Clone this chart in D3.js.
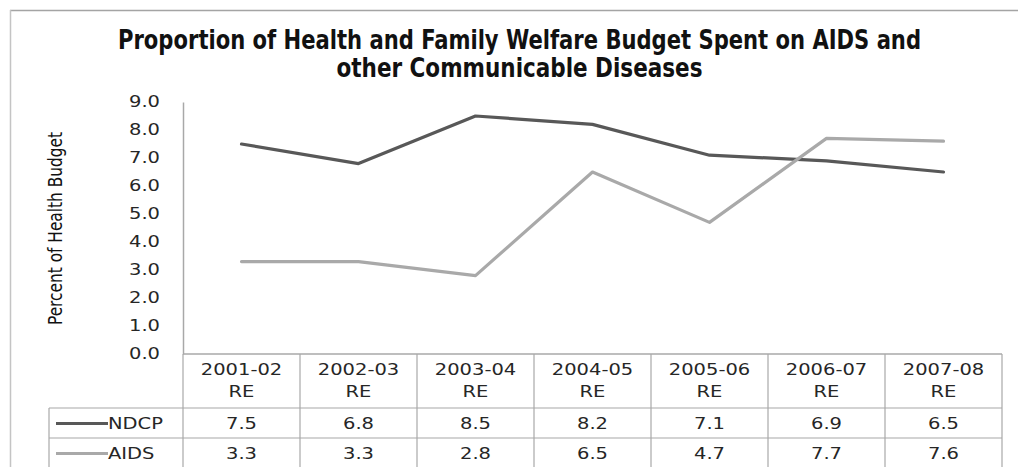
<!DOCTYPE html>
<html>
<head>
<meta charset="utf-8">
<script src="https://cdn.jsdelivr.net/npm/d3@7"></script>
<style>
  html, body { margin: 0; padding: 0; background: #fff; }
  svg { display: block; }
</style>
</head>
<body>
<svg id="chart" width="1018" height="467"></svg>
<script>
// Fiscal years (revised estimates)
const categories = ["2001-02 RE", "2002-03 RE", "2003-04 RE", "2004-05 RE", "2005-06 RE", "2006-07 RE", "2007-08 RE"];
const seriesNames = ["NDCP", "AIDS"];
const ndcpValues = [7.5, 6.8, 8.5, 8.2, 7.1, 6.9, 6.5];
const aidsValues = [3.3, 3.3, 2.8, 6.5, 4.7, 7.7, 7.6];
const yTicks = [0, 1, 2, 3, 4, 5, 6, 7, 8, 9];
const titleLines = ["Proportion of Health and Family Welfare Budget Spent on AIDS and", "other Communicable Diseases"];
const yTitle = "Percent of Health Budget";

const series = [
  { name: seriesNames[0], values: ndcpValues, color: "#585858" },
  { name: seriesNames[1], values: aidsValues, color: "#a9a9a9" }
];

const svg = d3.select("#chart");
const W = 1018, H = 467;
const plot = { left: 183, right: 1002, top: 102, bottom: 354 };
const table = { legendLeft: 49, headerBottom: 408, rowH: 30 };
const gridColor = "#a8a8a8";
const textColor = "#262626";
const numFont = "'DejaVu Sans', Verdana, sans-serif";
const condFont = "'Liberation Sans Narrow', 'DejaVu Sans Condensed', 'Arial Narrow', sans-serif";
const stretch = 1.3;

// Chart frame
svg.append("line").attr("x1", 10).attr("x2", W).attr("y1", 10.5).attr("y2", 10.5)
  .attr("stroke", "#a4a4a4").attr("stroke-width", 1.5);
svg.append("line").attr("x1", 10.5).attr("x2", 10.5).attr("y1", 10).attr("y2", H)
  .attr("stroke", "#c4c4c4").attr("stroke-width", 1.5);

// Title
const titleWidths = [803, 366];
titleLines.forEach((t, i) => {
  svg.append("text")
    .attr("x", 519.5).attr("y", 49 + i * 28)
    .attr("text-anchor", "middle")
    .attr("font-family", condFont)
    .attr("font-weight", "bold")
    .attr("font-size", 26)
    .attr("fill", "#111")
    .attr("textLength", titleWidths[i])
    .attr("lengthAdjust", "spacingAndGlyphs")
    .text(t);
});

// Scales
const x = d3.scaleBand().domain(categories).range([plot.left, plot.right]).padding(0);
const y = d3.scaleLinear().domain([0, 9]).range([plot.bottom, plot.top]);

// Y axis
const yAxis = svg.append("g")
  .attr("transform", `translate(${plot.left},0)`)
  .call(d3.axisLeft(y).tickValues(yTicks).tickFormat(d3.format(".1f")).tickSize(0).tickPadding(23));
yAxis.select(".domain").attr("stroke", gridColor).attr("stroke-width", 1.5);
yAxis.selectAll(".tick text")
  .attr("font-family", numFont).attr("font-size", 15).attr("fill", textColor)
  .attr("x", null)
  .attr("transform", `translate(-23,0) scale(${stretch},1)`);

// Y axis title
svg.append("text")
  .attr("transform", "translate(62,228.5) rotate(-90)")
  .attr("text-anchor", "middle")
  .attr("font-family", condFont)
  .attr("font-size", 20)
  .attr("fill", "#111")
  .attr("textLength", 193)
  .attr("lengthAdjust", "spacingAndGlyphs")
  .text(yTitle);

// Data table grid
const tableBottom = H + 2;
const grid = svg.append("g").attr("stroke", gridColor).attr("stroke-width", 1.2).attr("fill", "none");
const colEdges = categories.map(c => x(c)).concat([plot.right]);
colEdges.forEach(e => {
  grid.append("line").attr("x1", e).attr("x2", e).attr("y1", plot.bottom).attr("y2", tableBottom);
});
grid.append("line").attr("x1", plot.left).attr("x2", plot.right).attr("y1", plot.bottom).attr("y2", plot.bottom)
  .attr("stroke-width", 1.5);
grid.append("line").attr("x1", table.legendLeft).attr("x2", table.legendLeft)
  .attr("y1", table.headerBottom).attr("y2", tableBottom);
[table.headerBottom, table.headerBottom + table.rowH].forEach(yy => {
  grid.append("line").attr("x1", table.legendLeft).attr("x2", plot.right).attr("y1", yy).attr("y2", yy);
});

// Category headers (two lines each)
const header = svg.append("g")
  .attr("font-family", numFont).attr("font-size", 15).attr("fill", textColor).attr("text-anchor", "middle");
categories.forEach(c => {
  const parts = c.split(" ");
  const cx = x(c) + x.bandwidth() / 2;
  parts.forEach((p, i) => {
    header.append("text")
      .attr("transform", `translate(${cx},${375 + i * 22}) scale(${stretch},1)`)
      .text(p);
  });
});

// Table rows: legend key + values
series.forEach((s, r) => {
  const rowMid = table.headerBottom + table.rowH * r + table.rowH / 2 + 0.5;
  svg.append("line")
    .attr("x1", 56).attr("x2", 108).attr("y1", rowMid).attr("y2", rowMid)
    .attr("stroke", s.color).attr("stroke-width", 3);
  svg.append("text")
    .attr("transform", `translate(108,${rowMid + 5.5}) scale(${stretch},1)`)
    .attr("font-family", numFont).attr("font-size", 15).attr("fill", textColor)
    .text(s.name);
  s.values.forEach((v, i) => {
    svg.append("text")
      .attr("transform", `translate(${x(categories[i]) + x.bandwidth() / 2},${rowMid + 5.5}) scale(${stretch},1)`)
      .attr("text-anchor", "middle")
      .attr("font-family", numFont).attr("font-size", 15).attr("fill", textColor)
      .text(d3.format(".1f")(v));
  });
});

// Lines
const line = d3.line()
  .x((d, i) => x(categories[i]) + x.bandwidth() / 2)
  .y(d => y(d));
series.forEach(s => {
  svg.append("path")
    .attr("d", line(s.values))
    .attr("fill", "none")
    .attr("stroke", s.color)
    .attr("stroke-width", 3.2)
    .attr("stroke-linejoin", "round")
    .attr("stroke-linecap", "round");
});
</script>
</body>
</html>
